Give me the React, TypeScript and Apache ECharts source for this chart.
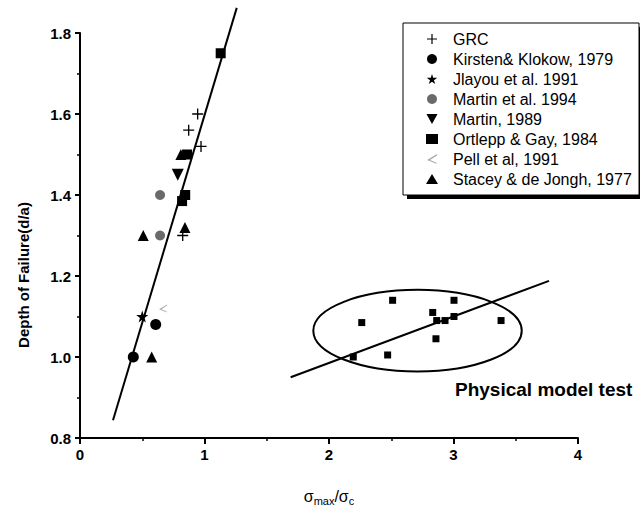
import React, { useEffect, useRef } from "react";
import * as echarts from "echarts";

const grc = [[0.945, 1.6], [0.873, 1.56], [0.972, 1.52], [0.825, 1.3]];
const kirsten = [[0.428, 1.0], [0.608, 1.08]];
const jiayou = [[0.5, 1.1]];
const martin94 = [[0.643, 1.4], [0.643, 1.3]];
const martin89 = [[0.785, 1.45]];
const ortlepp = [[1.13, 1.75], [0.86, 1.5], [0.845, 1.4], [0.82, 1.385]];
const pell = [[0.667, 1.12]];
const stacey = [[0.508, 1.3], [0.843, 1.32], [0.576, 1.0], [0.81, 1.5]];
const physical = [
  [2.195, 1.0], [2.263, 1.085], [2.471, 1.005], [2.511, 1.14], [2.833, 1.11],
  [2.865, 1.09], [2.859, 1.045], [2.932, 1.09], [3.004, 1.14], [3.004, 1.1], [3.382, 1.09],
];
const fit1 = [[0.265, 0.844], [1.259, 1.862]];
const fit2 = [[1.692, 0.95], [3.767, 1.188]];
const ellipse = [[2.711, 1.065, 0.837, 0.1008]];
const legendNames = [
  "GRC", "Kirsten& Klokow, 1979", "Jlayou et al. 1991", "Martin et al. 1994",
  "Martin, 1989", "Ortlepp & Gay, 1984", "Pell et al, 1991", "Stacey & de Jongh, 1977",
];

const PLUS = "path://M4.4,0h1.2v4.4h4.4v1.2h-4.4v4.4h-1.2v-4.4h-4.4v-1.2h4.4z";
const STAR = "path://M50,0L61,35H98L68,57L79,91L50,70L21,91L32,57L2,35H39Z";
const DOWN = "path://M0,0L10,0L5,9Z";
const PELL = "path://M10,0L0,6L10,10L9,8.5L3,6L10,1.5Z";

export default function App() {
  const ref = useRef<HTMLDivElement>(null);
  useEffect(() => {
    const chart = echarts.init(ref.current!, null, { renderer: "svg" });
    const font = "'Liberation Sans', Arial, sans-serif";
    const sc = (name: string, data: number[][], symbol: string, size: number, color: string, z = 3) => ({
      name, type: "scatter", data, symbol, symbolSize: size,
      itemStyle: { color, opacity: 1 }, z,
    });
    chart.setOption({
      animation: false,
      backgroundColor: "#fff",
      textStyle: { fontFamily: font },
      grid: { left: 80, right: 62, top: 33, bottom: 74, outerBoundsMode: "none", containLabel: false },
      xAxis: {
        type: "value", min: 0, max: 4, interval: 1,
        axisLine: { show: true, lineStyle: { color: "#000", width: 2 } },
        axisTick: { show: true, length: 6, lineStyle: { color: "#000", width: 2 } },
        minorTick: { show: true, splitNumber: 2, length: 3, lineStyle: { color: "#000", width: 1.5 } },
        splitLine: { show: false },
        axisLabel: { color: "#000", fontSize: 15, fontWeight: "bold", margin: 9, fontFamily: font },
        name: "{s|σ}{sub|max}{s|/σ}{sub|c}",
        nameLocation: "middle", nameGap: 48,
        nameTextStyle: {
          rich: {
            s: { fontSize: 16, color: "#000", fontFamily: font },
            sub: { fontSize: 11, color: "#000", fontFamily: font, padding: [9, 0, 0, 0] },
          },
        },
      },
      yAxis: {
        type: "value", min: 0.8, max: 1.8, interval: 0.2,
        axisLine: { show: true, lineStyle: { color: "#000", width: 2 } },
        axisTick: { show: true, length: 5, lineStyle: { color: "#000", width: 2 } },
        minorTick: { show: true, splitNumber: 2, length: 3, lineStyle: { color: "#000", width: 1.5 } },
        splitLine: { show: false },
        axisLabel: {
          color: "#000", fontSize: 15, fontWeight: "bold", margin: 9, fontFamily: font,
          formatter: (v: number) => v.toFixed(1),
        },
      },
      legend: {
        data: legendNames, orient: "vertical", left: 426, top: 29, padding: 0,
        itemWidth: 12, itemHeight: 10, itemGap: 0,
        textStyle: { fontSize: 16, lineHeight: 20, color: "#000", fontFamily: font, padding: [0, 0, 0, 10] },
        selectedMode: false, z: 10,
      },
      graphic: [
        { type: "rect", shape: { x: 407, y: 27, width: 240, height: 172 }, style: { fill: "#000" }, z: 0 },
        { type: "rect", shape: { x: 403, y: 23, width: 236, height: 172 }, style: { fill: "#fff", stroke: "#000", lineWidth: 1 }, z: 1 },
        {
          type: "text", x: 23, y: 275, rotation: Math.PI / 2,
          style: { text: "Depth of Failure(d/a)", fontSize: 15, fontWeight: "bold", fontFamily: font, fill: "#000", align: "center", verticalAlign: "middle" },
        },
        {
          type: "text", x: 455, y: 389,
          style: { text: "Physical model test", fontSize: 19, fontWeight: "bold", fontFamily: font, fill: "#000", align: "left", verticalAlign: "middle" },
        },
      ],
      series: [
        {
          type: "line", data: fit1, symbol: "none", clip: false, silent: true,
          lineStyle: { color: "#000", width: 2 }, z: 2,
        },
        {
          type: "line", data: fit2, symbol: "none", clip: false, silent: true,
          lineStyle: { color: "#000", width: 2 }, z: 2,
        },
        {
          type: "custom", data: ellipse, silent: true, z: 2,
          renderItem: (_p: any, api: any) => {
            const c = api.coord([api.value(0), api.value(1)]);
            const s = api.size([api.value(2), api.value(3)]);
            return {
              type: "ellipse",
              shape: { cx: c[0], cy: c[1], rx: s[0], ry: s[1] },
              style: { fill: "none", stroke: "#000", lineWidth: 2 },
            };
          },
        },
        sc("Physical model test", physical, "rect", 7, "#000"),
        sc(legendNames[0], grc, PLUS, 11, "#000", 2),
        sc(legendNames[1], kirsten, "circle", 11, "#000"),
        sc(legendNames[2], jiayou, STAR, 12, "#000"),
        sc(legendNames[3], martin94, "circle", 10, "#6a6a6a"),
        sc(legendNames[4], martin89, DOWN, 12, "#000"),
        sc(legendNames[5], ortlepp, "rect", 10, "#000"),
        sc(legendNames[6], pell, PELL, 8, "#aaa"),
        sc(legendNames[7], stacey, "triangle", 11, "#000"),
      ],
    });
    return () => chart.dispose();
  }, []);
  return <div ref={ref} style={{ position: "fixed", left: 0, top: 0, width: 640, height: 512 }} />;
}
